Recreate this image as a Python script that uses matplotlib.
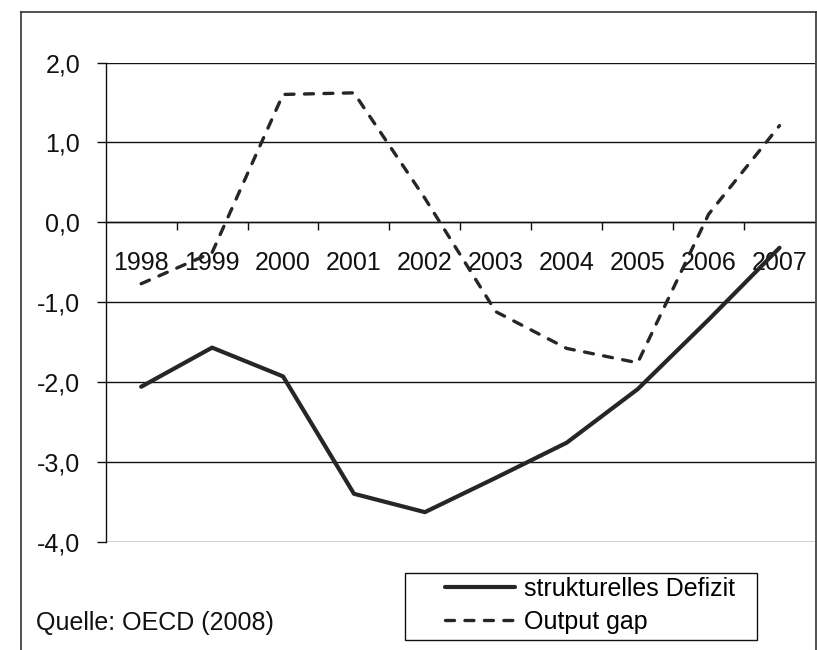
import matplotlib
matplotlib.use("Agg")
import matplotlib.pyplot as plt
from matplotlib.lines import Line2D
from matplotlib.patches import Rectangle
from matplotlib.ticker import FixedLocator, FuncFormatter

plt.rcParams['font.family'] = ['Liberation Sans', 'DejaVu Sans']
plt.rcParams['axes.unicode_minus'] = False
plt.rcParams['lines.scale_dashes'] = False

years = ['1998', '1999', '2000', '2001', '2002', '2003', '2004', '2005', '2006', '2007']
strukturelles_defizit = [-2.06, -1.57, -1.93, -3.40, -3.63, -3.20, -2.76, -2.09, -1.22, -0.32]
output_gap = [-0.77, -0.38, 1.60, 1.62, 0.30, -1.12, -1.58, -1.76, 0.10, 1.21]
yticks = [2.0, 1.0, 0.0, -1.0, -2.0, -3.0, -4.0]
label_solid = 'strukturelles Defizit'
label_dash = 'Output gap'
source = 'Quelle: OECD (2008)'

W, H = 817, 650
fig = plt.figure(figsize=(W / 100, H / 100), dpi=100)
fig.patch.set_facecolor('white')

def fx(px):
    return px / W

def fy(py):
    return 1 - py / H

ax = fig.add_axes([fx(105.7), fy(541.7), fx(815) - fx(105.7), fy(62.5) - fy(541.7)])
ax.set_facecolor('white')

x = list(range(len(years)))
line_col = '#262626'
ax.plot(x, strukturelles_defizit, color=line_col, lw=3.0, solid_capstyle='round',
        solid_joinstyle='round', label=label_solid, zorder=3)
ax.plot(x, output_gap, color=line_col, lw=2.4, dashes=(6.5, 7.5), dash_capstyle='round',
        label=label_dash, zorder=3)

ax.set_xlim(-0.5, len(years) - 0.5)
ax.set_ylim(min(yticks), max(yticks))

for v in yticks:
    ax.axhline(v, color='#111111', lw=1.0, zorder=1)

for s in ['top', 'right']:
    ax.spines[s].set_visible(False)
ax.spines['left'].set_color('#111111')
ax.spines['left'].set_linewidth(1.0)
ax.spines['bottom'].set_position(('data', 0))
ax.spines['bottom'].set_color('#111111')
ax.spines['bottom'].set_linewidth(1.0)

ax.yaxis.set_major_locator(FixedLocator(yticks))
ax.yaxis.set_major_formatter(FuncFormatter(lambda v, p: f"{v:.1f}".replace('.', ',')))
ax.tick_params(axis='y', which='major', direction='out', length=6.5, width=1.0,
               color='#111111', pad=12, labelsize=18, labelcolor='#111111')

ax.set_xticks(x)
ax.set_xticklabels(years)
ax.set_xticks([i - 0.5 for i in range(1, len(years))], minor=True)
ax.tick_params(axis='x', which='major', length=0, pad=21, labelsize=18, labelcolor='#111111')
ax.tick_params(axis='x', which='minor', direction='out', length=5.5, width=1.0, color='#111111')

# outer frame
frame_col = '#333333'
fig.add_artist(Line2D([fx(20.7), fx(20.7)], [fy(12), 0], transform=fig.transFigure,
                      color=frame_col, lw=1.2))
fig.add_artist(Line2D([fx(20.7), fx(815.5)], [fy(12), fy(12)], transform=fig.transFigure,
                      color=frame_col, lw=1.2))
fig.add_artist(Line2D([fx(815.5), fx(815.5)], [fy(12), 0], transform=fig.transFigure,
                      color=frame_col, lw=1.2))

fig.text(fx(36), fy(623), source, fontsize=18, va='center', ha='left', color='#111111')

# legend box
fig.add_artist(Rectangle((fx(405), fy(640)), fx(757) - fx(405), fy(573) - fy(640),
                         transform=fig.transFigure, fill=True, facecolor='white',
                         edgecolor='#111111', lw=1.0, zorder=4))
leg = fig.legend(loc='upper left', bbox_to_anchor=(fx(445), fy(577)),
                 borderaxespad=0, borderpad=0, fontsize=18, handlelength=2.8,
                 handletextpad=0.35, labelspacing=0.36, frameon=False)
leg.set_zorder(5)

fig.savefig('out.png', dpi=100, facecolor='white')
